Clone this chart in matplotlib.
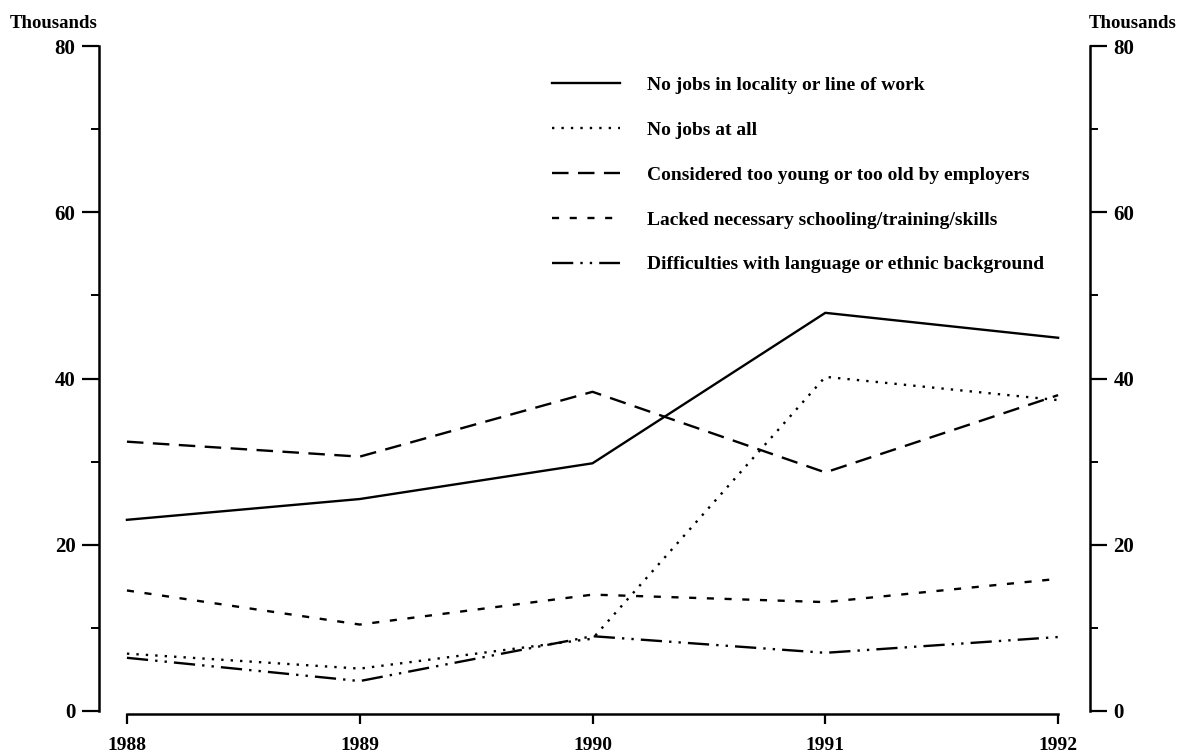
import matplotlib
matplotlib.use("Agg")
import matplotlib.pyplot as plt
from matplotlib.ticker import MultipleLocator

years = [1988, 1989, 1990, 1991, 1992]

no_jobs_locality = [23.0, 25.5, 29.8, 47.9, 44.9]
no_jobs_at_all = [6.9, 5.1, 8.7, 40.2, 37.4]
too_young_old = [32.4, 30.6, 38.4, 28.7, 38.0]
lacked_schooling = [14.5, 10.4, 14.0, 13.1, 15.9]
language_ethnic = [6.4, 3.6, 9.0, 7.0, 8.9]

labels = [
    "No jobs in locality or line of work",
    "No jobs at all",
    "Considered too young or too old by employers",
    "Lacked necessary schooling/training/skills",
    "Difficulties with language or ethnic background",
]

plt.rcParams["font.family"] = ["Liberation Serif", "DejaVu Serif"]
plt.rcParams["font.weight"] = "bold"

fig = plt.figure(figsize=(11.79, 7.56), dpi=100)
ax = fig.add_axes([99 / 1179, 1 - 711 / 756, (1090 - 99) / 1179, (711 - 46) / 756])

lw = 1.7
ax.plot(years, no_jobs_locality, color="black", lw=lw, linestyle="-", label=labels[0])
ax.plot(years, no_jobs_at_all, color="black", lw=lw, linestyle=(0, (1, 3)), label=labels[1])
ax.plot(years, too_young_old, color="black", lw=lw, linestyle=(0, (7, 4)), label=labels[2])
ax.plot(years, lacked_schooling, color="black", lw=lw, linestyle=(0, (3, 4.5)), label=labels[3])
ax.plot(years, language_ethnic, color="black", lw=lw, linestyle=(0, (9, 3, 1, 3, 1, 3)), label=labels[4])

ax.set_xlim(1987.88, 1992.137)
ax.set_ylim(0, 80)

ax.spines["top"].set_visible(False)
for s in ["left", "right", "bottom"]:
    ax.spines[s].set_linewidth(1.8)
ax.spines["left"].set_bounds(0, 80)
ax.spines["right"].set_bounds(0, 80)
ax.spines["bottom"].set_bounds(1988, 1992)
ax.spines["bottom"].set_position(("outward", 2))

ax.set_xticks(years)
ax.set_xticklabels([str(y) for y in years])
ax.yaxis.set_major_locator(MultipleLocator(20))
ax.yaxis.set_minor_locator(MultipleLocator(10))
ax.tick_params(axis="y", which="major", direction="out", length=12, width=1.6,
               left=True, right=True, labelleft=True, labelright=True,
               labelsize=15, pad=5)
ax.tick_params(axis="y", which="minor", direction="out", length=6, width=1.4,
               left=True, right=True)
ax.tick_params(axis="x", which="major", direction="out", length=7, width=1.6,
               labelsize=14, pad=10)
for t in ax.get_xticklabels() + ax.get_yticklabels():
    t.set_fontweight("bold")

fig.text(10 / 1179, 1 - 24 / 756, "Thousands", fontsize=13.5, fontweight="bold",
         ha="left", va="center")
fig.text(1177 / 1179, 1 - 24 / 756, "Thousands", fontsize=13.5, fontweight="bold",
         ha="right", va="center")

leg = ax.legend(loc="upper left", bbox_to_anchor=(534 / 1179, 1 - 59 / 756),
                bbox_transform=fig.transFigure, frameon=False, fontsize=14,
                handlelength=3.5, handletextpad=1.4, labelspacing=1.4)
for t in leg.get_texts():
    t.set_fontweight("bold")

fig.savefig("out.png", dpi=100)
